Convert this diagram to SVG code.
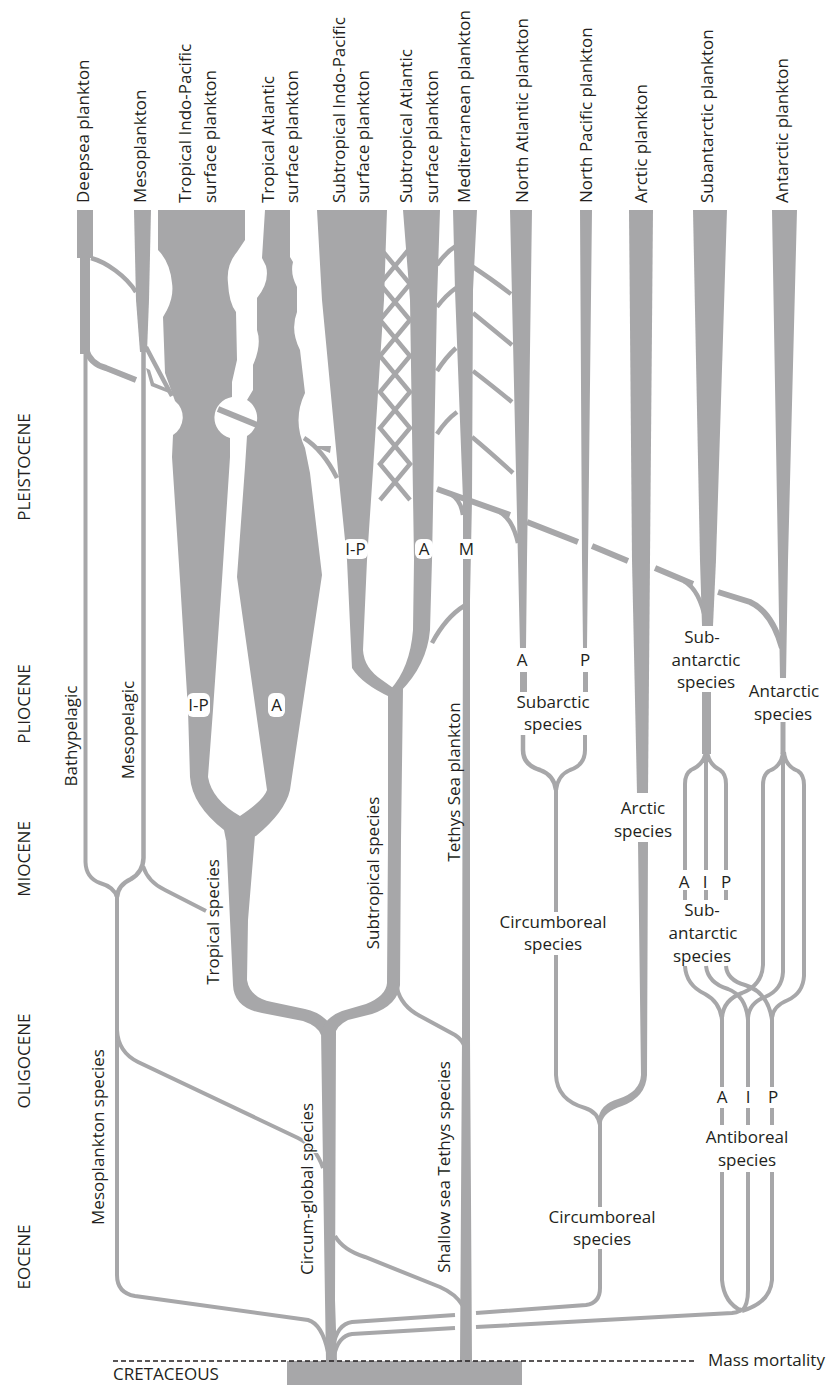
<svg xmlns="http://www.w3.org/2000/svg" width="830" height="1385" viewBox="0 0 830 1385">
<style>
.f{fill:#a7a7a9}
.s{fill:none;stroke:#a7a7a9;stroke-width:4.5;stroke-linecap:butt}
.n{fill:none;stroke:#a7a7a9;stroke-width:4}
.m{fill:none;stroke:#a7a7a9;stroke-width:6}
.t{font-family:"Open Sans","Liberation Sans",sans-serif;font-size:17px;fill:#231f20}
.c{text-anchor:middle}
.h{stroke:#fff;stroke-width:3;paint-order:stroke}
.w{fill:#fff}
</style>
<rect width="830" height="1385" fill="#fff"/>
<g id="connectors">
<path class="s" d="M91,258 C106,262 126,276 136,292"/>
<path class="n" d="M85.5,352 V862 Q86,878 100,883 Q114,887 117,897"/>
<path class="s" d="M143.5,350 V858 Q143,872 131,879 Q118,885 117,897"/>
<path class="n" d="M117,893 V1275 Q117,1293 135,1296 L308,1320 Q322,1324 328,1352"/>
<path class="n" d="M117,1030 Q118,1052 138,1062 L298,1138 Q316,1147 323,1168"/>
<path class="n" d="M143,866 Q148,882 165,890 L206,911"/>
<path class="m" d="M86,349 Q90,364 106,368 L136,380"/>
<path class="s" d="M146,347 Q158,370 172,396"/>
<polygon class="f" points="146,368 151,386 169,393 166,388 154,383 150,370"/>
<path class="m" d="M218,409 L257,425"/>
<path class="s" d="M304,438 Q323,450 337,478"/>
<polygon class="f" points="313,446 331,446 330,453"/>
<path class="s" d="M380,248 L410,284 L380,320 L410,356 L380,392 L410,428 L380,464 L410,500"/>
<path class="s" d="M410,248 L380,284 L410,320 L380,356 L410,392 L380,428 L410,464 L380,500"/>
<path class="s" d="M437,265 Q446,252 456,246 M437,307 Q446,295 456,288 M437,371 Q446,357 456,348 M437,434 Q446,420 457,412"/>
<path class="s" d="M473,267 Q490,278 511,294 M473,313 Q490,327 512,345 M473,371 Q490,384 512,402 M472,437 Q490,452 513,473"/>
<path class="m" d="M437,489 L510,515 M527,522 L578,542 M592,546 L628,561 M655,568 L693,584 M718,592 L750,602 Q772,612 782,648"/>
<path class="s" d="M452,495 Q461,501 463,515 M500,512 Q513,520 518,543 M684,581 Q700,590 706,622"/>
<path class="s" d="M464,606 Q446,617 432,643"/>
<path class="n" d="M397,988 Q401,1006 420,1016 L455,1035 Q463,1040 465,1048"/>
<path class="n" d="M335,1236 Q343,1250 365,1257 L440,1287 Q456,1294 463,1306"/>
<path class="n" d="M333,1347 Q337,1324 352,1322 L455,1315"/>
<path class="n" d="M334,1356 Q338,1336 352,1334 L455,1328"/>
<path class="n" d="M476,1313 L586,1305 Q600,1303 600,1288 V1118"/>
<path class="n" d="M476,1327 L732,1313 Q741,1312 742,1308"/>
<path class="s" d="M523,735 V750 Q523,765 540,770 Q554,775 556,790"/>
<path class="n" d="M585,735 V750 Q585,765 570,770 Q558,775 556,790"/>
<path class="n" d="M556,785 V1075 Q557,1100 585,1108 Q598,1112 600,1125"/>
<path class="n" d="M706,750 Q705,764 691,770 Q685,774 685,784 V870 M706,750 V870 M707,750 Q708,764 720,770 Q726,774 726,784 V870"/>
<path class="n" d="M685,890 V900 M706,890 V900 M726,890 V900"/>
<path class="n" d="M783,752 Q782,766 769,771 Q763,775 763,785 V965 Q762,985 742,993 Q723,1000 722,1018 M783,752 V972 Q782,990 765,997 Q749,1003 748,1018 M784,752 Q785,766 798,771 Q804,775 804,785 V976 Q803,993 788,1000 Q773,1006 772,1018"/>
<path class="n" d="M685,966 Q686,985 705,994 Q720,1002 722,1020 M706,966 Q708,983 728,989 Q746,996 748,1020 M726,966 Q727,980 745,985 Q768,992 772,1020"/>
<path class="n" d="M722,1015 V1087 M748,1015 V1087 M772,1015 V1087 M722,1108 V1125 M748,1108 V1125 M772,1108 V1125"/>
<path class="n" d="M722,1172 V1280 Q724,1303 742,1311 M748,1172 V1290 Q748,1305 742,1311 M772,1172 V1280 Q770,1303 742,1311"/>
</g>
<g id="deepsea-plankton">
<rect class="f" x="77" y="210" width="16" height="48"/>
<rect class="f" x="80" y="256" width="10" height="98"/>
<text class="t" transform="translate(88.5,203) rotate(-90)">Deepsea plankton</text>
</g>
<g id="mesoplankton">
<path class="f" d="M134,210 H151 L149,300 L147,352 H140 L136,300 Z"/>
<text class="t" transform="translate(145.5,203) rotate(-90)">Mesoplankton</text>
</g>
<g id="tropical-indo-pacific">
<path class="f" d="M158,210 H245 V240 L237,252 Q226,265 228,283 Q229,303 236,312 L237,360 L232,382 L232,397 A21,21 0 0 0 230,438 L230,457 L222,580 L213,710 L208,777 Q212,800 240,816 L240,840 L226,840 L224,830 Q192,805 190,777 L188,710 L180,580 L172,457 L173,435 A21,21 0 0 0 175,401 L165,373 L163,317 L167,310 Q174,296 172,283 Q170,262 158,250 Z"/>
<text class="t" transform="translate(190.5,203) rotate(-90)">Tropical Indo-Pacific</text>
<text class="t" transform="translate(215.5,203) rotate(-90)">surface plankton</text>
<rect class="w" x="187" y="693" width="23" height="24" rx="6"/>
<text class="t c" x="198.5" y="711">I-P</text>
</g>
<g id="tropical-atlantic">
<path class="f" d="M265,210 H290 V257 L293,262 Q290,274 297,287 L297,312 Q290,330 300,350 L305,393 Q292,420 305,448 L310,473 L322,575 L290,790 Q285,812 256,836 L240,840 L240,816 Q264,800 267,790 L237,577 L245,467 L247,436 A21,21 0 0 0 247,400 L253,390 L253,365 Q262,345 257,330 L257,298 Q270,282 266,266 L262,258 Z"/>
<text class="t" transform="translate(273.5,203) rotate(-90)">Tropical Atlantic</text>
<text class="t" transform="translate(297.5,203) rotate(-90)">surface plankton</text>
<rect class="w" x="268" y="693" width="17" height="24" rx="6"/>
<text class="t c" x="276.5" y="711">A</text>
</g>
<g id="tropical-species">
<path class="f" d="M226,835 H255 L248,920 L247,980 Q250,998 272,1002 L305,1009 Q328,1014 336,1035 H321 Q318,1026 303,1021 L262,1013 Q234,1008 233,985 L230,920 Z"/>
<text class="t c h" transform="translate(218.5,922) rotate(-90)">Tropical species</text>
</g>
<g id="subtropical-indo-pacific">
<path class="f" d="M317,210 H387 L384,300 L373,470 L367,560 L363,650 Q364,668 382,680 L396,690 L390,697 Q362,684 352,668 L347,560 L338,470 L322,300 Z"/>
<text class="t" transform="translate(344.5,203) rotate(-90)">Subtropical Indo-Pacific</text>
<text class="t" transform="translate(369,203) rotate(-90)">surface plankton</text>
<rect class="w" x="343" y="539" width="25" height="20" rx="6"/>
<text class="t c" x="355.5" y="555">I-P</text>
</g>
<g id="subtropical-atlantic">
<path class="f" d="M403,210 H440 L437,300 L432,560 L430,630 Q427,665 400,692 L390,690 Q410,668 413,630 L414,560 L410,300 Z"/>
<text class="t" transform="translate(411.5,203) rotate(-90)">Subtropical Atlantic</text>
<text class="t" transform="translate(437.5,203) rotate(-90)">surface plankton</text>
<rect class="w" x="415" y="539" width="18" height="20" rx="6"/>
<text class="t c" x="424" y="555">A</text>
</g>
<g id="subtropical-species">
<path class="f" d="M388,688 H403 L401,840 L400,985 Q398,1005 372,1014 L348,1020 Q336,1026 335,1035 H321 Q323,1018 342,1011 L366,1004 Q386,996 387,983 L388,840 Z"/>
<text class="t c h" transform="translate(379,873) rotate(-90)">Subtropical species</text>
</g>
<g id="circum-global-species">
<path class="f" d="M321,1030 H336 L335,1300 L337,1361 H326 L325,1300 Z"/>
<text class="t c h" transform="translate(312.5,1189) rotate(-90)">Circum-global species</text>
</g>
<g id="mesoplankton-species">
<text class="t c" transform="translate(76.5,736) rotate(-90)">Bathypelagic</text>
<text class="t c" transform="translate(134,730) rotate(-90)">Mesopelagic</text>
<text class="t c" transform="translate(104,1137) rotate(-90)">Mesoplankton species</text>
</g>
<g id="mediterranean-plankton">
<path class="f" d="M453,210 H477 L473,290 L472,500 L470,600 L470,1040 L472,1361 H460 L462,1040 L463,600 L463,500 L455,290 Z"/>
<text class="t" transform="translate(469.5,203) rotate(-90)">Mediterranean plankton</text>
<rect class="w" x="457" y="539" width="19" height="20" rx="6"/>
<text class="t c" x="466.5" y="555">M</text>
<text class="t c" transform="translate(459.5,782) rotate(-90)">Tethys Sea plankton</text>
<text class="t c h" transform="translate(449.5,1167) rotate(-90)">Shallow sea Tethys species</text>
</g>
<g id="north-atlantic-plankton">
<path class="f" d="M510,210 H532 L527,560 L526,648 H520 L518,560 Z"/>
<rect class="f" x="520" y="672" width="7" height="20"/>
<text class="t" transform="translate(527.5,203) rotate(-90)">North Atlantic plankton</text>
<text class="t c" x="522" y="666">A</text>
</g>
<g id="north-pacific-plankton">
<path class="f" d="M580,210 H592 L588,560 L587,648 H583 L582,560 Z"/>
<rect class="f" x="583" y="672" width="5" height="20"/>
<text class="t" transform="translate(592,203) rotate(-90)">North Pacific plankton</text>
<text class="t c" x="585" y="666">P</text>
</g>
<g id="subarctic-species">
<text class="t c" x="553" y="708">Subarctic</text>
<text class="t c" x="553" y="730">species</text>
</g>
<g id="circumboreal-species">
<rect class="w" x="500" y="912" width="106" height="43"/>
<text class="t c" x="553" y="928">Circumboreal</text>
<text class="t c" x="553" y="950">species</text>
<rect class="w" x="549" y="1207" width="106" height="42"/>
<text class="t c" x="602" y="1223">Circumboreal</text>
<text class="t c" x="602" y="1245">species</text>
</g>
<g id="arctic-plankton">
<path class="f" d="M629,210 H653 L650,560 L648,793 H637 L632,560 Z"/>
<path class="f" d="M638,842 H648 L647,1075 Q646,1097 622,1106 Q604,1112 602,1122 L598,1120 Q600,1104 618,1099 Q640,1092 641,1075 Z"/>
<text class="t" transform="translate(647,203) rotate(-90)">Arctic plankton</text>
<text class="t c" x="643" y="814">Arctic</text>
<text class="t c" x="643" y="837">species</text>
</g>
<g id="subantarctic-plankton">
<path class="f" d="M693,210 H727 L716,560 L713,626 H702 L700,560 Z"/>
<rect class="f" x="702" y="692" width="9" height="62"/>
<text class="t" transform="translate(713,203) rotate(-90)">Subantarctic plankton</text>
<text class="t c" x="702" y="643">Sub-</text>
<text class="t c" x="706" y="666">antarctic</text>
<text class="t c" x="706" y="688">species</text>
<text class="t c" x="684" y="888">A</text>
<text class="t c" x="705" y="888">I</text>
<text class="t c" x="726" y="888">P</text>
<text class="t c" x="702" y="916">Sub-</text>
<text class="t c" x="703" y="939">antarctic</text>
<text class="t c" x="702" y="962">species</text>
</g>
<g id="antarctic-plankton">
<path class="f" d="M772,210 H797 L788,560 L786,678 H780 L778,560 Z"/>
<rect class="f" x="780.5" y="722" width="5" height="32"/>
<text class="t" transform="translate(787.5,203) rotate(-90)">Antarctic plankton</text>
<text class="t c" x="784" y="697">Antarctic</text>
<text class="t c" x="783" y="720">species</text>
</g>
<g id="antiboreal-species">
<text class="t c" x="722" y="1103">A</text>
<text class="t c" x="748" y="1103">I</text>
<text class="t c" x="773" y="1103">P</text>
<text class="t c" x="747" y="1143">Antiboreal</text>
<text class="t c" x="747" y="1166">species</text>
</g>
<g id="eras">
<text class="t c" transform="translate(30,467) rotate(-90)">PLEISTOCENE</text>
<text class="t c" transform="translate(30,704) rotate(-90)">PLIOCENE</text>
<text class="t c" transform="translate(30,859) rotate(-90)">MIOCENE</text>
<text class="t c" transform="translate(30,1061) rotate(-90)">OLIGOCENE</text>
<text class="t c" transform="translate(30,1257) rotate(-90)">EOCENE</text>
</g>
<g id="cretaceous">
<rect class="f" x="287" y="1361" width="235" height="24"/>
<path d="M113,1361 H697" fill="none" stroke="#231f20" stroke-width="1.3" stroke-dasharray="5 3"/>
<text class="t" x="113" y="1380">CRETACEOUS</text>
<text class="t" x="708" y="1366">Mass mortality</text>
</g>
</svg>
